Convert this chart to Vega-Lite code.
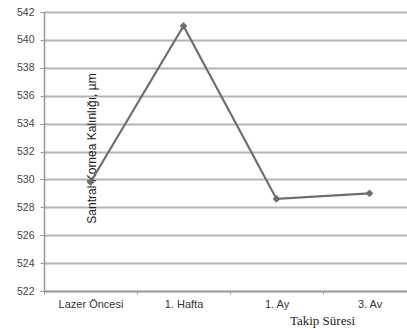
{
  "$schema": "https://vega.github.io/schema/vega-lite/v6.json",
  "autosize": "none",
  "width": 363,
  "height": 279,
  "padding": {"left": 44, "top": 12, "right": 0, "bottom": 38},
  "background": "white",
  "config": {"view": {"stroke": null}},
  "data": {"values": [
    {"donem": "Lazer Öncesi", "kalinlik": 529.8},
    {"donem": "1. Hafta", "kalinlik": 541.0},
    {"donem": "1. Ay", "kalinlik": 528.6},
    {"donem": "3. Av", "kalinlik": 529.0}
  ]},
  "encoding": {
    "x": {
      "field": "donem", "type": "nominal", "sort": null,
      "scale": {"paddingInner": 0, "paddingOuter": 0, "range": [0, 372]},
      "axis": {
        "title": "Takip Süresi", "titleFont": "'Liberation Serif', 'DejaVu Serif', serif", "titleFontSize": 13, "titleFontWeight": "normal",
        "titleColor": "#222", "titleX": 278, "titleY": 33, "titleAnchor": "middle", "titleBaseline": "alphabetic",
        "labelAngle": 0, "labelFont": "Liberation Sans", "labelFontSize": 11, "labelColor": "#333", "labelPadding": 4,
        "tickBand": "extent", "tickColor": "#999", "tickSize": 3, "domainColor": "#999", "domainWidth": 1.5,
        "grid": false
      }
    },
    "y": {
      "field": "kalinlik", "type": "quantitative",
      "scale": {"domain": [522, 542], "nice": false, "zero": false},
      "axis": {
        "title": "Santral Kornea Kalınlığı, µm", "titleFont": "Liberation Sans", "titleFontSize": 12, "titleFontWeight": "normal",
        "titleColor": "#222", "titleX": 47, "titleY": 136, "titleAngle": -90, "titleAnchor": "middle", "titleBaseline": "middle",
        "values": [522, 524, 526, 528, 530, 532, 534, 536, 538, 540, 542],
        "labelFont": "Liberation Sans", "labelFontSize": 10.5, "labelColor": "#444", "labelPadding": 6,
        "tickColor": "#999", "tickSize": 4, "domainColor": "#999", "domainWidth": 1.5,
        "grid": true, "gridColor": "#b4b4b4", "gridWidth": 2
      }
    }
  },
  "layer": [
    {"mark": {"type": "line", "color": "#6e6e6e", "strokeWidth": 2.2}},
    {"mark": {"type": "point", "shape": "diamond", "filled": true, "color": "#6e6e6e", "size": 60, "opacity": 1}}
  ]
}
